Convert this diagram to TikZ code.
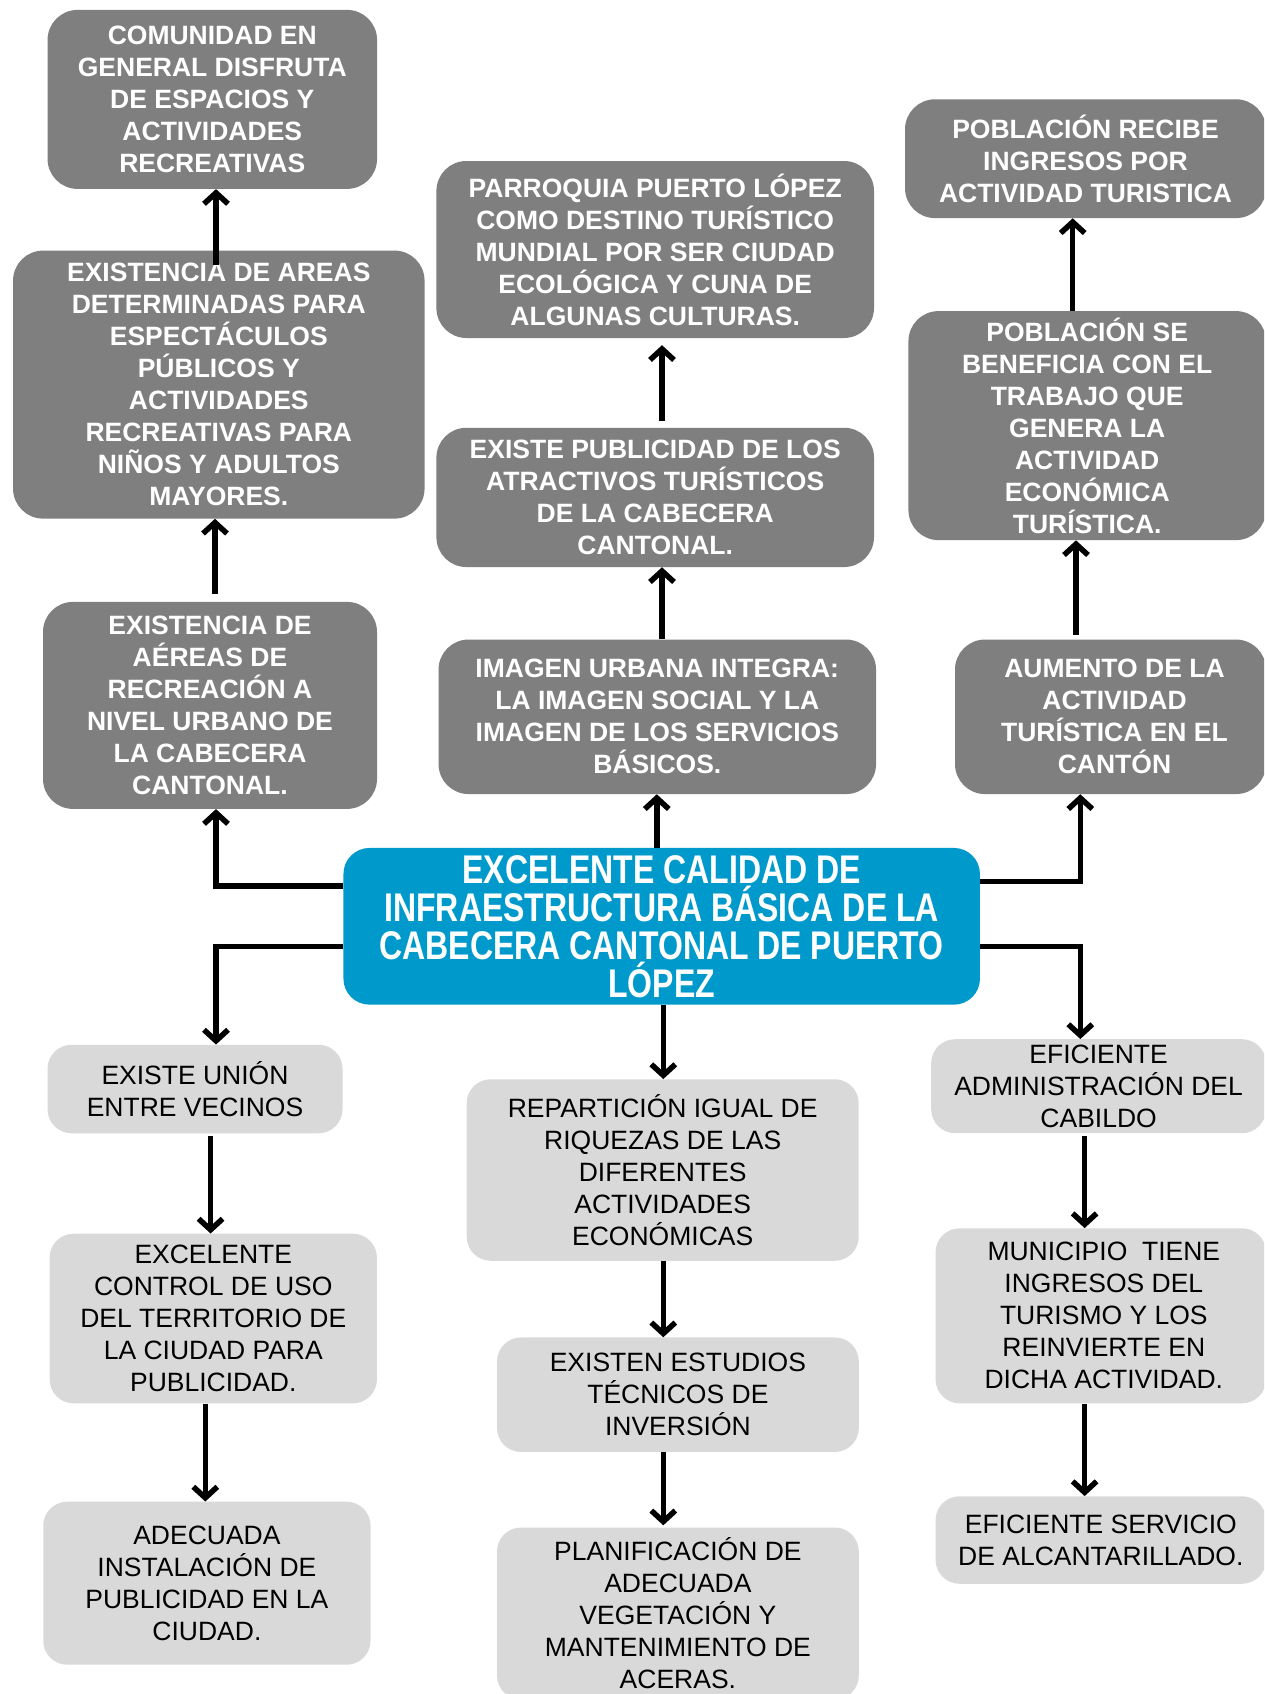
\documentclass[tikz,border=0pt]{standalone}
\usepackage{fontspec}
\setmainfont{Liberation Sans}
\newfontfamily\narrowfont[FakeStretch=0.8]{Liberation Sans}
\usetikzlibrary{arrows.meta}
\definecolor{darkbox}{RGB}{127,127,127}
\definecolor{lightbox}{RGB}{217,217,217}
\definecolor{corecol}{RGB}{0,153,204}
\tikzset{
  darkstyle/.style={fill=darkbox, draw=none, rounded corners=30, inner sep=0pt, align=center,
    text=white, font=\fontsize{26.5}{32}\selectfont\bfseries},
  lightstyle/.style={fill=lightbox, draw=none, rounded corners=24, inner sep=0pt, align=center,
    text=black, font=\fontsize{26.5}{32}\selectfont},
  corestyle/.style={fill=corecol, draw=none, rounded corners=26, inner sep=0pt, align=center,
    text=white, font=\narrowfont\fontsize{40}{38}\selectfont\bfseries},
  arr/.style={line width=5.5pt, -{Straight Barb[length=11pt,width=24pt]}},
  ln/.style={line width=5.5pt}
}
\begin{document}
\begin{tikzpicture}[x=1pt,y=-1pt]
\clip (0,0) rectangle (1264,1694);
\fill[white] (0,0) rectangle (1264,1694);

% dark boxes (upper part)
\node[darkstyle, minimum width=329.5, minimum height=179] (com) at (212.3,99.4)
  {COMUNIDAD EN\\GENERAL DISFRUTA\\DE ESPACIOS Y\\ACTIVIDADES\\RECREATIVAS};
\node[darkstyle, minimum width=411.5, minimum height=268] (areas) at (218.8,384.6)
  {EXISTENCIA DE AREAS\\DETERMINADAS PARA\\ESPECTÁCULOS\\PÚBLICOS Y\\ACTIVIDADES\\RECREATIVAS PARA\\NIÑOS Y ADULTOS\\MAYORES.};
\node[darkstyle, minimum width=334, minimum height=207] (aer) at (210,705.4)
  {EXISTENCIA DE\\AÉREAS DE\\RECREACIÓN A\\NIVEL URBANO DE\\LA CABECERA\\CANTONAL.};
\node[darkstyle, minimum width=437.6, minimum height=177] (parr) at (655.2,249.5)
  {PARROQUIA PUERTO LÓPEZ\\COMO DESTINO TURÍSTICO\\MUNDIAL POR SER CIUDAD\\ECOLÓGICA Y CUNA DE\\ALGUNAS CULTURAS.};
\node[darkstyle, minimum width=437.6, minimum height=139.3] (pub) at (655.2,497.4)
  {EXISTE PUBLICIDAD DE LOS\\ATRACTIVOS TURÍSTICOS\\DE LA CABECERA\\CANTONAL.};
\node[darkstyle, minimum width=437.5, minimum height=154.5] (img) at (657.3,716.8)
  {IMAGEN URBANA INTEGRA:\\LA IMAGEN SOCIAL Y LA\\IMAGEN DE LOS SERVICIOS\\BÁSICOS.};
\node[darkstyle, minimum width=361, minimum height=118.8] (rec) at (1085.5,158.7)
  {POBLACIÓN RECIBE\\INGRESOS POR\\ACTIVIDAD TURISTICA};
\node[darkstyle, minimum width=357.5, minimum height=229] (ben) at (1087.2,425.6)
  {POBLACIÓN SE\\BENEFICIA CON EL\\TRABAJO QUE\\GENERA LA\\ACTIVIDAD\\ECONÓMICA\\TURÍSTICA.};
\node[darkstyle, minimum width=311, minimum height=154.5] (aum) at (1110.5,716.8)
  {\hspace*{8pt}AUMENTO DE LA\\\hspace*{8pt}ACTIVIDAD\\\hspace*{8pt}TURÍSTICA EN EL\\\hspace*{8pt}CANTÓN};

% core
\node[corestyle, minimum width=636.5, minimum height=156.7] (core) at (661.7,926.3)
  {EXCELENTE CALIDAD DE\\INFRAESTRUCTURA BÁSICA DE LA\\CABECERA CANTONAL DE PUERTO\\LÓPEZ};

% light boxes (lower part)
\node[lightstyle, minimum width=295, minimum height=88.5] (union) at (195,1089)
  {EXISTE UNIÓN\\ENTRE VECINOS};
\node[lightstyle, minimum width=327.3, minimum height=169.6] (ctrl) at (213.3,1318.5)
  {EXCELENTE\\CONTROL DE USO\\DEL TERRITORIO DE\\LA CIUDAD PARA\\PUBLICIDAD.};
\node[lightstyle, minimum width=327.3, minimum height=163] (adec) at (206.9,1583.2)
  {ADECUADA\\INSTALACIÓN DE\\PUBLICIDAD EN LA\\CIUDAD.};
\node[lightstyle, minimum width=392, minimum height=181.5] (rep) at (662.7,1170)
  {REPARTICIÓN IGUAL DE\\RIQUEZAS DE LAS\\DIFERENTES\\ACTIVIDADES\\ECONÓMICAS};
\node[lightstyle, minimum width=361.8, minimum height=114.5] (est) at (677.9,1394.7)
  {EXISTEN ESTUDIOS\\TÉCNICOS DE\\INVERSIÓN};
\node[lightstyle, minimum width=361.8, minimum height=172] (plan) at (677.9,1613.5)
  {PLANIFICACIÓN DE\\ADECUADA\\VEGETACIÓN Y\\MANTENIMIENTO DE\\ACERAS.};
\fill[lightbox] (plan.south west) rectangle ([yshift=-30pt]plan.south east);
\node[lightstyle, minimum width=334.8, minimum height=94] (admin) at (1098.6,1086.2)
  {EFICIENTE\\ADMINISTRACIÓN DEL\\CABILDO};
\node[lightstyle, minimum width=330.5, minimum height=175] (muni) at (1100.8,1315.8)
  {\hspace*{6pt}MUNICIPIO~ TIENE\\\hspace*{6pt}INGRESOS DEL\\\hspace*{6pt}TURISMO Y LOS\\\hspace*{6pt}REINVIERTE EN\\\hspace*{6pt}DICHA ACTIVIDAD.};
\node[lightstyle, minimum width=330.5, minimum height=87.5] (alc) at (1100.8,1540)
  {EFICIENTE SERVICIO\\DE ALCANTARILLADO.};

% connectors from the core
\draw[arr] (core.west |- 0,885.8) -| (aer.south -| 216,0);
\draw[arr] (core.north -| 656.8,0) -- (img.south -| 656.8,0);
\draw[arr] (core.east |- 0,881.5) -| (aum.south -| 1080.3,0);
\draw[arr] (core.west |- 0,946.3) -| (union.north -| 216,0);
\draw[arr] (core.south -| 663.3,0) -- (rep.north -| 663.3,0);
\draw[arr] (core.east |- 0,946.3) -| (admin.north -| 1080.3,0);

% upper chains
\draw[arr, shorten <=8pt] (aer.north -| 215,0) -- (areas.south -| 215,0);
\draw[arr, shorten <=-15pt] (areas.north -| 216,0) -- (com.south -| 216,0);
\draw[arr] (img.north -| 662,0) -- (pub.south -| 662,0);
\draw[arr, shorten <=7pt, shorten >=7pt] (pub.north -| 662,0) -- (parr.south -| 662,0);
\draw[arr, shorten <=4pt] (aum.north -| 1076,0) -- (ben.south -| 1076,0);
\draw[arr] (ben.north -| 1072.7,0) -- (rec.south -| 1072.7,0);

% lower chains
\draw[arr, shorten <=3pt] (union.south -| 210.6,0) -- (ctrl.north -| 210.6,0);
\draw[arr] (ctrl.south -| 205.3,0) -- (adec.north -| 205.3,0);
\draw[arr] (rep.south -| 663.3,0) -- (est.north -| 663.3,0);
\draw[arr, shorten >=2pt] (est.south -| 663.3,0) -- (plan.north -| 663.3,0);
\draw[arr, shorten <=3pt] (admin.south -| 1084.6,0) -- (muni.north -| 1084.6,0);
\draw[arr] (muni.south -| 1084.6,0) -- (alc.north -| 1084.6,0);
\end{tikzpicture}
\end{document}
